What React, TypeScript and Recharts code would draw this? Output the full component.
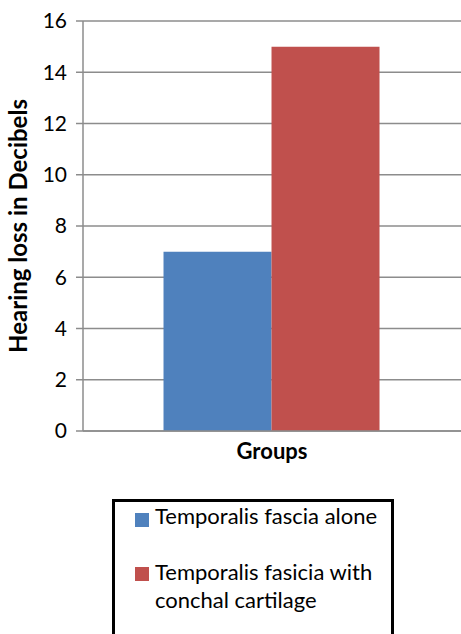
import { BarChart, Bar, XAxis, YAxis, CartesianGrid, Legend } from 'recharts';

const groups = ['Groups'];
const fasciaAlone = [7];
const fasciaWithCartilage = [15];
const yTicks = [0, 2, 4, 6, 8, 10, 12, 14, 16];
const seriesNames = ['Temporalis fascia alone', 'Temporalis fasicia with conchal cartilage'];
const COLORS = ['#4F81BD', '#C0504D'];

const data = groups.map((g, i) => ({
  group: g,
  alone: fasciaAlone[i],
  cartilage: fasciaWithCartilage[i],
}));

const FONT = 'Lato, "Open Sans", sans-serif';

// legend drawn as a boxed list, like the original spreadsheet chart
const LegendBox = () => (
  <div
    style={{
      width: 282,
      height: 150,
      boxSizing: 'border-box',
      border: '3px solid #000',
      background: '#fff',
      fontFamily: FONT,
      fontSize: 22,
      color: '#000',
      position: 'relative',
    }}
  >
    {seriesNames.map((name, i) => (
      <div key={name}>
        <span
          style={{
            position: 'absolute',
            left: 20,
            top: i === 0 ? 11 : 65,
            width: 14,
            height: 14,
            background: COLORS[i],
          }}
        />
        <span
          style={{
            position: 'absolute',
            left: 40,
            top: i === 0 ? 0 : 56,
            lineHeight: '28px',
            whiteSpace: 'nowrap',
          }}
        >
          {i === 0 ? name : (
            <>
              Temporalis fasicia with
              <br />
              conchal cartilage
            </>
          )}
        </span>
      </div>
    ))}
  </div>
);

export default function App() {
  return (
    <div style={{ position: 'absolute', left: 0, top: 0, width: 461, height: 634, overflow: 'hidden', background: '#fff' }}>
      <BarChart
        width={461}
        height={634}
        data={data}
        margin={{ top: 21, right: 0, bottom: 163, left: 0 }}
        barCategoryGap="21.3%"
        barGap={0}
      >
        <CartesianGrid horizontal vertical={false} stroke="#8c8c8c" strokeWidth={1.5} />
        <XAxis
          dataKey="group"
          tick={false}
          tickLine={false}
          axisLine={{ stroke: '#8c8c8c', strokeWidth: 1.5 }}
          height={40}
          label={{
            value: 'Groups',
            position: 'insideTop',
            offset: 12,
            fill: '#000',
            fontSize: 22,
            fontWeight: 700,
            fontFamily: FONT,
          }}
        />
        <YAxis
          width={83}
          domain={[0, 16]}
          ticks={yTicks}
          interval={0}
          tickSize={7}
          tickMargin={9}
          tickLine={{ stroke: '#8c8c8c', strokeWidth: 1.5 }}
          axisLine={{ stroke: '#8c8c8c', strokeWidth: 1.5 }}
          tick={{ fill: '#000', fontSize: 21, fontFamily: FONT }}
          label={{
            value: 'Hearing loss in Decibels',
            angle: -90,
            position: 'insideLeft',
            offset: 18,
            style: { textAnchor: 'middle' },
            fill: '#000',
            fontSize: 24,
            fontWeight: 700,
            fontFamily: FONT,
          }}
        />
        <Legend
          layout="horizontal"
          verticalAlign="middle"
          align="center"
          content={() => <LegendBox />}
          wrapperStyle={{ left: 112, top: 499, width: 282 }}
        />
        <Bar dataKey="alone" name={seriesNames[0]} fill={COLORS[0]} isAnimationActive={false} />
        <Bar dataKey="cartilage" name={seriesNames[1]} fill={COLORS[1]} isAnimationActive={false} />
      </BarChart>
    </div>
  );
}
